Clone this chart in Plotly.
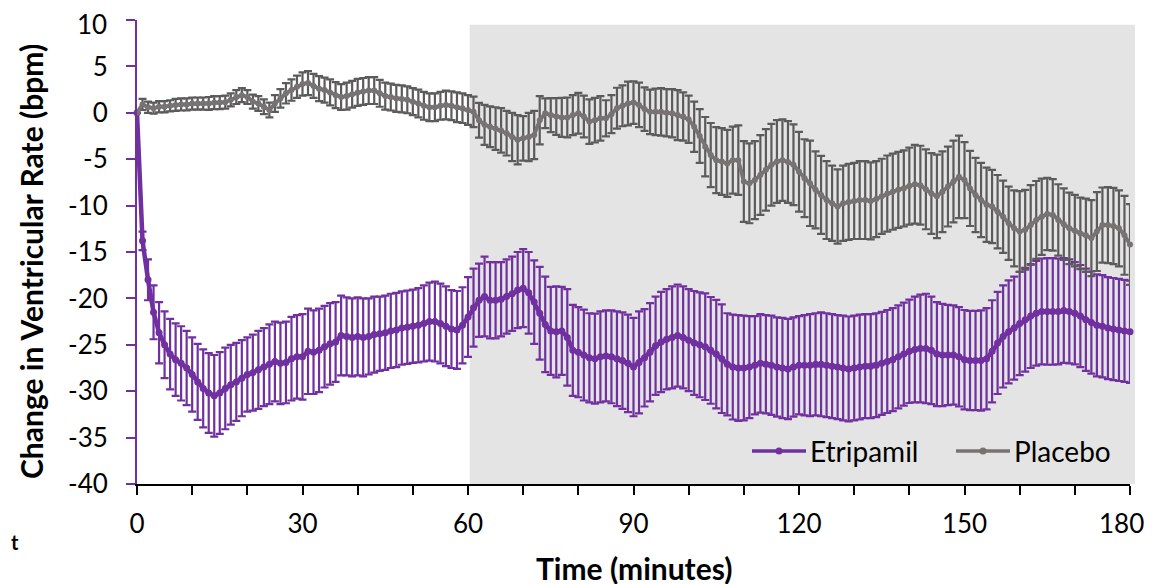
import plotly.graph_objects as go

# ---------------- data ----------------
minutes = list(range(0, 181))

etripamil_mean = [
    0, -13.8, -18.0, -21.5, -23.7, -25.0, -26.0, -26.6, -27.0, -27.5,
    -28.2, -29.0, -29.7, -30.2, -30.5, -30.2, -29.7, -29.3, -29.0, -28.6,
    -28.2, -28.0, -27.7, -27.4, -27.1, -26.8, -27.0, -26.9, -26.5, -26.3,
    -26.3, -25.7, -25.8, -25.6, -25.2, -24.9, -24.7, -24.0, -24.1, -24.2,
    -24.1, -24.2, -24.1, -23.9, -23.8, -23.7, -23.5, -23.4, -23.2, -23.1,
    -23.0, -22.9, -22.7, -22.5, -22.5, -22.7, -23.0, -23.3, -23.4, -22.9,
    -22.0, -21.0, -20.2, -19.8, -20.2, -20.2, -20.1, -19.8, -19.5, -19.1,
    -18.9, -19.4, -20.4, -21.6, -22.8, -23.5, -23.6, -23.5, -24.2, -25.6,
    -25.8, -26.1, -26.4, -26.5, -26.3, -26.2, -26.3, -26.5, -26.7, -27.0,
    -27.4, -26.9, -26.4, -25.8, -25.1, -24.7, -24.4, -24.2, -24.0, -24.2,
    -24.5, -24.8, -25.0, -25.2, -25.6, -26.0, -26.5, -27.1, -27.4, -27.5,
    -27.5, -27.4, -27.2, -27.0, -27.1, -27.2, -27.4, -27.5, -27.6, -27.4,
    -27.2, -27.2, -27.2, -27.1, -27.1, -27.2, -27.3, -27.4, -27.5, -27.6,
    -27.5, -27.4, -27.3, -27.3, -27.2, -27.0, -26.8, -26.6, -26.3, -26.0,
    -25.7, -25.5, -25.4, -25.4, -25.6, -26.0, -26.1, -26.1, -26.1, -26.3,
    -26.6, -26.7, -26.7, -26.7, -26.5, -25.7, -24.8, -24.1, -23.6, -23.2,
    -22.7, -22.3, -21.9, -21.6, -21.4, -21.4, -21.4, -21.4, -21.3, -21.4,
    -21.6, -21.9, -22.3, -22.6, -22.9, -23.0, -23.2, -23.3, -23.4, -23.5,
    -23.6,
]

etripamil_err = [
    0, 1.0, 2.2, 2.9, 3.3, 3.6, 3.8, 3.9, 4.0, 4.0,
    4.0, 4.1, 4.2, 4.3, 4.4, 4.4, 4.4, 4.3, 4.2, 4.1,
    4.0, 4.1, 4.2, 4.2, 4.3, 4.3, 4.4, 4.4, 4.5, 4.5,
    4.6, 4.6, 4.5, 4.5, 4.4, 4.4, 4.3, 4.3, 4.2, 4.2,
    4.2, 4.2, 4.1, 4.1, 4.0, 4.0, 4.0, 4.0, 3.95, 3.95,
    3.95, 4.0, 4.1, 4.2, 4.3, 4.3, 4.3, 4.2, 4.2, 4.1,
    4.3, 4.2, 3.95, 4.3, 4.1, 4.1, 4.0, 4.0, 4.0, 4.1,
    4.2, 4.4, 4.5, 5.0, 5.15, 4.75, 4.9, 4.75, 5.2, 4.9,
    4.85, 4.9, 4.8, 4.85, 4.9, 4.9, 5.0, 5.1, 5.2, 5.25,
    5.3, 5.5, 5.25, 5.3, 5.3, 5.4, 5.4, 5.5, 5.5, 5.5,
    5.5, 5.6, 5.65, 5.75, 5.75, 5.85, 5.85, 5.5, 5.65, 5.7,
    5.65, 5.5, 5.3, 5.3, 5.3, 5.35, 5.35, 5.4, 5.4, 5.35,
    5.3, 5.4, 5.5, 5.5, 5.6, 5.6, 5.6, 5.6, 5.65, 5.65,
    5.65, 5.65, 5.6, 5.6, 5.6, 5.55, 5.55, 5.55, 5.55, 5.55,
    5.57, 5.7, 5.8, 5.9, 5.8, 5.6, 5.5, 5.4, 5.35, 5.35,
    5.35, 5.35, 5.35, 5.4, 5.45, 5.5, 5.5, 5.5, 5.55, 5.55,
    5.57, 5.6, 5.6, 5.65, 5.7, 5.75, 5.75, 5.7, 5.65, 5.6,
    5.5, 5.5, 5.5, 5.5, 5.5, 5.5, 5.5, 5.5, 5.5, 5.5,
    5.5,
]

placebo_mean = [
    0, 0.9, 0.6, 0.5, 0.65, 0.65, 0.75, 0.85, 0.9, 0.9,
    1.0, 1.0, 1.0, 1.0, 1.1, 1.1, 1.15, 1.4, 1.7, 1.9,
    1.7, 1.2, 1.0, 0.65, 0.3, 1.0, 1.55, 2.1, 2.45, 2.8,
    3.1, 3.2, 2.9, 2.6, 2.45, 2.2, 1.9, 1.7, 1.8, 2.0,
    2.2, 2.3, 2.4, 2.4, 2.1, 1.8, 1.7, 1.55, 1.5, 1.4,
    1.2, 1.0, 0.75, 0.6, 0.6, 0.75, 0.85, 0.75, 0.6, 0.5,
    0.3, 0.1, -0.8, -1.3, -1.5, -1.7, -1.9, -2.2, -2.6, -2.9,
    -2.75, -2.6, -2.4, -0.8, -0.05, -0.25, -0.4, -0.5, -0.5, -0.25,
    -0.05, -0.4, -0.95, -0.8, -0.6, -0.6, -0.15, 0.5, 0.75, 1.0,
    1.1, 0.85, 0.4, 0.1, 0.1, 0.1, 0.0, -0.05, -0.25, -0.4,
    -0.7, -1.5, -2.5, -3.65, -4.55, -5.1, -5.25, -5.45, -5.1, -5.1,
    -7.4, -7.6, -7.25, -6.7, -6.15, -5.6, -5.25, -5.1, -5.3, -5.6,
    -6.35, -7.05, -7.6, -8.3, -8.85, -9.4, -9.75, -10.1, -9.75, -9.6,
    -9.5, -9.4, -9.4, -9.5, -9.3, -9.0, -8.7, -8.5, -8.3, -8.15,
    -7.9, -7.7, -7.8, -8.25, -8.7, -9.0, -8.5, -7.95, -7.4, -6.9,
    -7.25, -8.15, -8.85, -9.4, -9.9, -10.1, -10.65, -11.2, -11.9, -12.45,
    -12.8, -12.6, -12.1, -11.55, -11.2, -10.9, -11.0, -11.55, -12.0, -12.45,
    -12.7, -13.0, -13.2, -13.5, -12.8, -12.1, -12.1, -12.2, -12.45, -13.2,
    -14.2,
]

placebo_err = [
    0, 0.6, 0.6, 0.6, 0.6, 0.6, 0.6, 0.65, 0.65, 0.65,
    0.65, 0.65, 0.65, 0.7, 0.7, 0.7, 0.7, 0.7, 0.75, 0.75,
    0.75, 0.75, 0.8, 0.8, 0.8, 0.9, 1.0, 1.1, 1.15, 1.2,
    1.25, 1.3, 1.3, 1.35, 1.35, 1.4, 1.4, 1.4, 1.45, 1.45,
    1.45, 1.45, 1.45, 1.45, 1.45, 1.45, 1.45, 1.45, 1.45, 1.45,
    1.45, 1.5, 1.5, 1.5, 1.5, 1.5, 1.55, 1.55, 1.6, 1.6,
    1.6, 1.65, 1.87, 2.15, 2.2, 2.3, 2.4, 2.4, 2.6, 2.65,
    2.4, 2.6, 2.6, 2.6, 1.6, 1.83, 1.98, 2.1, 2.15, 2.15,
    2.2, 2.25, 2.4, 2.4, 2.4, 1.95, 2.05, 2.2, 2.2, 2.35,
    2.3, 2.4, 2.35, 2.4, 2.5, 2.55, 2.55, 2.6, 2.7, 2.6,
    2.55, 2.7, 2.9, 3.2, 3.45, 3.55, 3.6, 3.6, 3.6, 3.75,
    4.35, 4.3, 4.2, 4.3, 4.4, 4.4, 4.45, 4.4, 4.4, 4.35,
    4.3, 4.2, 4.6, 4.15, 4.2, 4.2, 4.05, 4.0, 4.05, 4.1,
    4.1, 4.2, 4.2, 4.15, 4.1, 4.05, 4.1, 4.1, 4.1, 4.1,
    4.15, 4.25, 4.25, 4.3, 4.35, 4.5, 4.35, 4.3, 4.4, 4.45,
    4.1, 4.05, 4.0, 4.0, 4.0, 3.95, 3.95, 3.9, 3.95, 4.1,
    4.35, 4.3, 4.3, 4.2, 4.1, 3.9, 3.85, 3.85, 3.85, 3.85,
    3.85, 3.85, 3.95, 4.1, 4.25, 4.05, 4.1, 4.1, 4.1, 4.25,
    4.35,
]

series_names = ["Etripamil", "Placebo"]
x_tick_vals = [0, 30, 60, 90, 120, 150, 180]
y_tick_vals = [10, 5, 0, -5, -10, -15, -20, -25, -30, -35, -40]

X_MIN, X_MAX = 0, 180
Y_MIN, Y_MAX = -40, 10

# shaded period (minutes / bpm)
SHADE_X0, SHADE_X1 = 60.3, 180.9
SHADE_Y1 = 9.5

# ---------------- styling ----------------
PURPLE = "#7030A0"
GRAY_LINE = "#777373"
GRAY_ERR = "#5b5b5b"
FONT = "Lato"
W, H = 1155, 584
PAGE_OFF = 8  # default page margin of the html body
# plot area in screen pixels
SL, SR, ST, SB = 137, 1130, 20, 484
ML = SL - PAGE_OFF
MT = ST - PAGE_OFF
MR = W - (SR - PAGE_OFF)
MB = H - (SB - PAGE_OFF)
PW, PH = SR - SL, SB - ST
TICK_FONT = dict(family=FONT, size=26, color="black")


def px_x(px):
    return (px - SL) / PW


def px_y(py):
    return (SB - py) / PH


fig = go.Figure()

fig.add_trace(go.Scatter(
    x=minutes, y=etripamil_mean, name=series_names[0], mode="lines+markers",
    line=dict(color=PURPLE, width=4.5),
    marker=dict(color=PURPLE, size=7),
    error_y=dict(type="data", array=etripamil_err, visible=True,
                 color=PURPLE, thickness=2.2, width=4),
    cliponaxis=False, showlegend=False,
))

fig.add_trace(go.Scatter(
    x=minutes, y=placebo_mean, name=series_names[1], mode="lines+markers",
    line=dict(color=GRAY_LINE, width=3.8),
    marker=dict(color=GRAY_LINE, size=6),
    error_y=dict(type="data", array=placebo_err, visible=True,
                 color=GRAY_ERR, thickness=2.2, width=4),
    cliponaxis=False, showlegend=False,
))

# shaded post-60-minute period
fig.add_shape(type="rect", xref="paper", yref="paper",
              x0=(SHADE_X0 - X_MIN) / (X_MAX - X_MIN),
              x1=(SHADE_X1 - X_MIN) / (X_MAX - X_MIN),
              y0=0, y1=(SHADE_Y1 - Y_MIN) / (Y_MAX - Y_MIN),
              fillcolor="#e4e4e4", line=dict(width=0), layer="below")

# custom legend (line sample + dot + label)
legend_items = [
    (series_names[0], PURPLE, 752),
    (series_names[1], GRAY_LINE, 956),
]
LEG_Y = 451
for name, col, x0 in legend_items:
    fig.add_shape(type="line", xref="paper", yref="paper",
                  x0=px_x(x0), x1=px_x(x0 + 54), y0=px_y(LEG_Y), y1=px_y(LEG_Y),
                  line=dict(color=col, width=3.5), layer="above")
    fig.add_shape(type="circle", xref="paper", yref="paper",
                  xsizemode="pixel", ysizemode="pixel",
                  xanchor=px_x(x0 + 27), yanchor=px_y(LEG_Y),
                  x0=-3.5, x1=3.5, y0=-3.5, y1=3.5,
                  fillcolor=col, line=dict(width=0), layer="above")
    fig.add_annotation(text=name, xref="paper", yref="paper",
                       x=px_x(x0 + 56), y=px_y(LEG_Y), xanchor="left",
                       yanchor="middle", showarrow=False,
                       font=dict(family=FONT, size=28, color="black"))

# last x tick label kept inside the visible page edge
x_tick_text = [str(v) for v in x_tick_vals[:-1]] + [""]
fig.add_annotation(text=str(x_tick_vals[-1]), xref="paper", yref="paper",
                   x=px_x(1146), y=px_y(523), xanchor="right", yanchor="middle",
                   showarrow=False, font=TICK_FONT)

# top y tick label kept inside the visible page edge
y_tick_text = [""] + [str(v) for v in y_tick_vals[1:]]
fig.add_annotation(text=str(y_tick_vals[0]), xref="paper", yref="paper",
                   x=px_x(108), y=px_y(24.5), xanchor="right", yanchor="middle",
                   borderpad=0, showarrow=False, font=TICK_FONT)

# axis titles
fig.add_annotation(text="<b>Time (minutes)</b>", xref="paper", yref="paper",
                   x=0.5, y=px_y(568), xanchor="center", yanchor="middle",
                   showarrow=False,
                   font=dict(family=FONT, size=30, color="black"))
fig.add_annotation(text="<b>Change in Ventricular Rate (bpm)</b>",
                   xref="paper", yref="paper", textangle=-90,
                   x=px_x(31), y=px_y(262), xanchor="center", yanchor="middle",
                   showarrow=False,
                   font=dict(family=FONT, size=30, color="black"))

# stray cropped text fragment at lower left
fig.add_annotation(text="<b>t</b>", xref="paper", yref="paper",
                   x=px_x(9), y=px_y(542), xanchor="left", yanchor="middle",
                   showarrow=False,
                   font=dict(family=FONT, size=20, color="black"))

fig.update_layout(
    width=W, height=H,
    margin=dict(l=ML, r=MR, t=MT, b=MB, autoexpand=False),
    paper_bgcolor="white", plot_bgcolor="white",
    font=dict(family=FONT, color="black"),
    showlegend=False,
    xaxis=dict(
        range=[X_MIN, X_MAX], tickmode="array", tickvals=x_tick_vals,
        ticktext=x_tick_text,
        showgrid=False, zeroline=False, automargin=False,
        showline=True, linecolor="black", linewidth=2,
        ticks="outside", ticklen=9, tickwidth=2, tickcolor="black",
        minor=dict(dtick=10, tick0=0, ticks="outside", ticklen=9,
                   tickwidth=2, tickcolor="black", showgrid=False),
        tickfont=TICK_FONT, ticklabelstandoff=7,
        ticklabeloverflow="allow",
    ),
    yaxis=dict(
        range=[Y_MIN, Y_MAX], tickmode="array", tickvals=y_tick_vals,
        ticktext=y_tick_text,
        showgrid=False, zeroline=False, automargin=False,
        showline=True, linecolor=PURPLE, linewidth=2,
        ticks="outside", ticklen=9, tickwidth=2, tickcolor=PURPLE,
        tickfont=TICK_FONT, ticklabelstandoff=13,
        ticklabeloverflow="allow",
    ),
)

fig.write_html("out.html")
